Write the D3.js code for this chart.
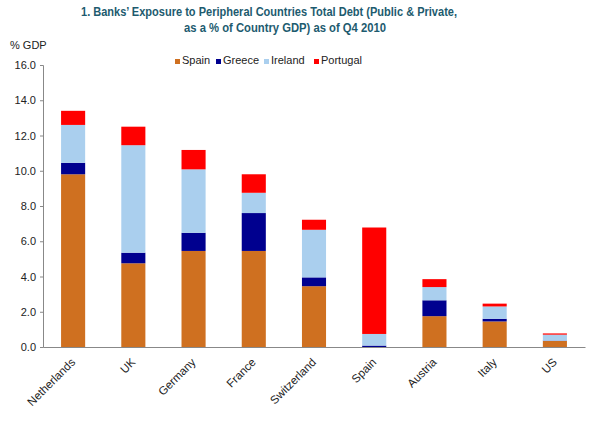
<!DOCTYPE html>
<html>
<head>
<meta charset="utf-8">
<script src="https://cdn.jsdelivr.net/npm/d3@7"></script>
<style>
  body { margin: 0; background: #fff; }
  text { font-family: "Liberation Sans", Arial, sans-serif; }
</style>
</head>
<body>
<div id="chart"></div>
<script>
const countries = ["Netherlands", "UK", "Germany", "France", "Switzerland", "Spain", "Austria", "Italy", "US"];
const spain    = [9.8, 4.75, 5.45, 5.45, 3.45, 0.0, 1.75, 1.45, 0.34];
const greece   = [0.65, 0.6, 1.03, 2.15, 0.5, 0.08, 0.9, 0.15, 0.02];
const ireland  = [2.15, 6.1, 3.6, 1.15, 2.7, 0.66, 0.75, 0.7, 0.34];
const portugal = [0.8, 1.05, 1.1, 1.05, 0.57, 6.04, 0.45, 0.16, 0.07];
const seriesNames = ["Spain", "Greece", "Ireland", "Portugal"];
const yTicks = [0, 2, 4, 6, 8, 10, 12, 14, 16];

const colors = {Spain: "#cf7020", Greece: "#00008f", Ireland: "#aacfee", Portugal: "#ff0000"};

const width = 591, height = 430;
const margin = {top: 65, right: 6, bottom: 83, left: 43};

const svg = d3.select("#chart").append("svg")
    .attr("width", width)
    .attr("height", height);

const rows = countries.map((c, i) => ({
    country: c,
    Spain: spain[i],
    Greece: greece[i],
    Ireland: ireland[i],
    Portugal: portugal[i]
}));

const stacked = d3.stack().keys(seriesNames)(rows);

const x = d3.scaleBand()
    .domain(countries)
    .range([margin.left, width - margin.right])
    .paddingInner(0.6)
    .paddingOuter(0.3);

const y = d3.scaleLinear()
    .domain([0, 16])
    .range([height - margin.bottom, margin.top]);

// title
const title = svg.append("g")
    .attr("fill", "#1d5b6f")
    .attr("font-weight", "bold")
    .attr("font-size", "12.5px");
title.append("text").attr("x", 81).attr("y", 16)
    .attr("textLength", 376).attr("lengthAdjust", "spacingAndGlyphs")
    .text("1. Banks\u2019 Exposure to Peripheral Countries Total Debt (Public & Private,");
title.append("text").attr("x", 184).attr("y", 32)
    .attr("textLength", 202).attr("lengthAdjust", "spacingAndGlyphs")
    .text("as a % of Country GDP) as of Q4 2010");

svg.append("text")
    .attr("x", 10).attr("y", 49)
    .attr("font-size", "11px")
    .attr("fill", "#222")
    .text("% GDP");

// bars
svg.append("g")
    .selectAll("g")
    .data(stacked)
    .join("g")
    .attr("fill", d => colors[d.key])
    .selectAll("rect")
    .data(d => d)
    .join("rect")
    .attr("x", d => x(d.data.country))
    .attr("y", d => y(d[1]))
    .attr("width", x.bandwidth())
    .attr("height", d => y(d[0]) - y(d[1]));

// y axis
const yAxis = svg.append("g")
    .attr("transform", `translate(${margin.left},0)`)
    .call(d3.axisLeft(y).tickValues(yTicks).tickFormat(d3.format(".1f")).tickSize(3).tickPadding(4));
yAxis.select(".domain").attr("stroke", "#888");
yAxis.selectAll(".tick line").attr("stroke", "#888");
yAxis.selectAll(".tick text")
    .attr("font-size", "11px")
    .attr("font-family", "Liberation Sans, Arial, sans-serif")
    .attr("fill", "#222");

// x axis
const xAxis = svg.append("g")
    .attr("transform", `translate(0,${y(0)})`)
    .call(d3.axisBottom(x).tickSize(0).tickSizeOuter(0).tickPadding(0));
xAxis.select(".domain").attr("stroke", "#888");
xAxis.selectAll(".tick text")
    .attr("font-size", "11.5px")
    .attr("font-family", "Liberation Sans, Arial, sans-serif")
    .attr("fill", "#222")
    .attr("text-anchor", "end")
    .attr("dy", "0.35em")
    .attr("transform", "translate(0,13) rotate(-45)");

// legend
const legendX = [175, 216, 264, 314];
const legend = svg.append("g")
    .selectAll("g")
    .data(seriesNames)
    .join("g")
    .attr("transform", (d, i) => `translate(${legendX[i]},64)`);
legend.append("rect")
    .attr("x", 0).attr("y", -5)
    .attr("width", 5).attr("height", 5)
    .attr("fill", d => colors[d]);
legend.append("text")
    .attr("x", 7).attr("y", 0)
    .attr("font-size", "11px")
    .attr("fill", "#222")
    .text(d => d);
</script>
</body>
</html>
